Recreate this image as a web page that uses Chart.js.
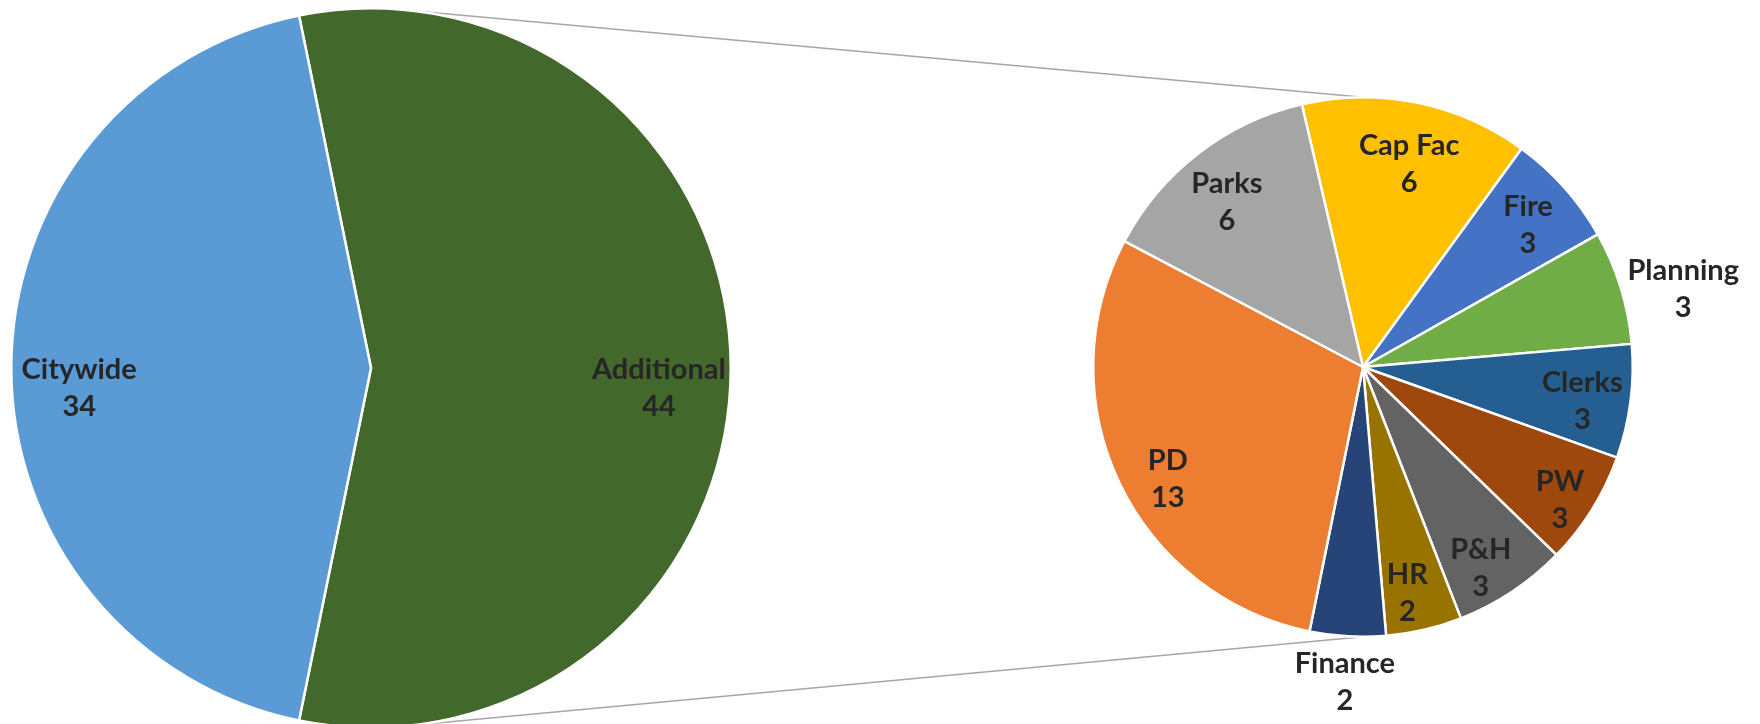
<!DOCTYPE html>
<html>
<head>
<meta charset="utf-8">
<script src="https://cdn.jsdelivr.net/npm/chart.js@4/dist/chart.umd.min.js"></script>
<style>
  html, body { margin: 0; padding: 0; background: #fff; overflow: hidden; }
  #wrap { position: relative; width: 1760px; height: 724px; overflow: hidden; }
  #wrap canvas { position: absolute; left: 0; top: 0; }
  #mainPie { z-index: 2; }
  #detailPie { z-index: 1; }
</style>
</head>
<body>
<div id="wrap">
  <canvas id="detailPie" width="1760" height="724"></canvas>
  <canvas id="mainPie" width="1760" height="760"></canvas>
</div>
<script>
// main pie
var mainLabels = ["Additional", "Citywide"];
var mainValues = [44, 34];
var mainColors = ["#43682b", "#5b9bd5"];

// breakdown of "Additional"
var detailLabels = ["Cap Fac", "Fire", "Planning", "Clerks", "PW", "P&H", "HR", "Finance", "PD", "Parks"];
var detailValues = [6, 3, 3, 3, 3, 3, 2, 2, 13, 6];
var detailColors = ["#ffc000", "#4472c4", "#70ad47", "#255e91", "#9e480e", "#636363", "#997300", "#264478", "#ed7d31", "#a5a5a5"];

// label placement: fraction of radius along the slice middle, then a nudge in px
var mainLabelPos = [0.8, 0.8];
var mainLabelDx = [0, -4];
var mainLabelDy = [20, 20];
var detailLabelPos = [0.77, 0.8, 1.2, 0.82, 0.86, 0.85, 0.84, 1.18, 0.83, 0.79];
var detailLabelDx = [5, 4, 11, 0, 0, -9, -7, 0, 7, -6];
var detailLabelDy = [1, 2, 18, 6, 11, 10, 5, -3, 16, 4];

var labelFont = "bold 29px Lato";
var labelColor = "#262626";

function labelPlugin(pos, dx, dy) {
  return {
    id: 'sliceLabels',
    afterDatasetsDraw: function(chart) {
      var ctx = chart.ctx;
      var meta = chart.getDatasetMeta(0);
      var labels = chart.data.labels;
      var values = chart.data.datasets[0].data;
      ctx.save();
      ctx.font = labelFont;
      ctx.fillStyle = labelColor;
      ctx.textAlign = 'center';
      ctx.textBaseline = 'middle';
      meta.data.forEach(function(arc, i) {
        var p = arc.getProps(['x', 'y', 'startAngle', 'endAngle', 'outerRadius'], true);
        var mid = (p.startAngle + p.endAngle) / 2;
        var cx = p.x + Math.cos(mid) * p.outerRadius * pos[i] + dx[i];
        var cy = p.y + Math.sin(mid) * p.outerRadius * pos[i] + dy[i];
        ctx.fillText(labels[i], cx, cy - 18.5);
        ctx.fillText(String(values[i]), cx, cy + 18.5);
      });
      ctx.restore();
    }
  };
}

var mainChart;

// grey lines joining the two pies
var connectorPlugin = {
  id: 'connectors',
  beforeDatasetsDraw: function(chart) {
    if (!mainChart) return;
    var a = mainChart.getDatasetMeta(0).data[0].getProps(['x', 'y', 'outerRadius'], true);
    var b = chart.getDatasetMeta(0).data[0].getProps(['x', 'y', 'outerRadius'], true);
    var ang = 7 * Math.PI / 180;
    var sx = a.x + Math.sin(ang) * a.outerRadius;
    var ctx = chart.ctx;
    ctx.save();
    ctx.strokeStyle = '#a6a6a6';
    ctx.lineWidth = 1.5;
    ctx.beginPath();
    ctx.moveTo(sx, a.y - Math.cos(ang) * a.outerRadius);
    ctx.lineTo(b.x, b.y - b.outerRadius);
    ctx.moveTo(sx, a.y + Math.cos(ang) * a.outerRadius);
    ctx.lineTo(b.x, b.y + b.outerRadius);
    ctx.stroke();
    ctx.restore();
  }
};

function build() {
  mainChart = new Chart(document.getElementById('mainPie').getContext('2d'), {
    type: 'pie',
    data: {
      labels: mainLabels,
      datasets: [{
        data: mainValues,
        backgroundColor: mainColors,
        borderColor: '#ffffff',
        borderWidth: 2.5
      }]
    },
    options: {
      responsive: false,
      animation: false,
      rotation: 90 - (mainValues[0] / (mainValues[0] + mainValues[1])) * 180,
      layout: { padding: { left: 10, top: 7, right: 1028, bottom: 31 } },
      plugins: { legend: { display: false }, tooltip: { enabled: false } },
      events: []
    },
    plugins: [labelPlugin(mainLabelPos, mainLabelDx, mainLabelDy)]
  });

  new Chart(document.getElementById('detailPie').getContext('2d'), {
    type: 'pie',
    data: {
      labels: detailLabels,
      datasets: [{
        data: detailValues,
        backgroundColor: detailColors,
        borderColor: '#ffffff',
        borderWidth: 2.5
      }]
    },
    options: {
      responsive: false,
      animation: false,
      rotation: -13.1,
      layout: { padding: { left: 1092, top: 96, right: 126, bottom: 86 } },
      plugins: { legend: { display: false }, tooltip: { enabled: false } },
      events: []
    },
    plugins: [connectorPlugin, labelPlugin(detailLabelPos, detailLabelDx, detailLabelDy)]
  });
}

if (document.fonts && document.fonts.load) {
  document.fonts.load(labelFont).then(build, build);
} else {
  build();
}
</script>
</body>
</html>
